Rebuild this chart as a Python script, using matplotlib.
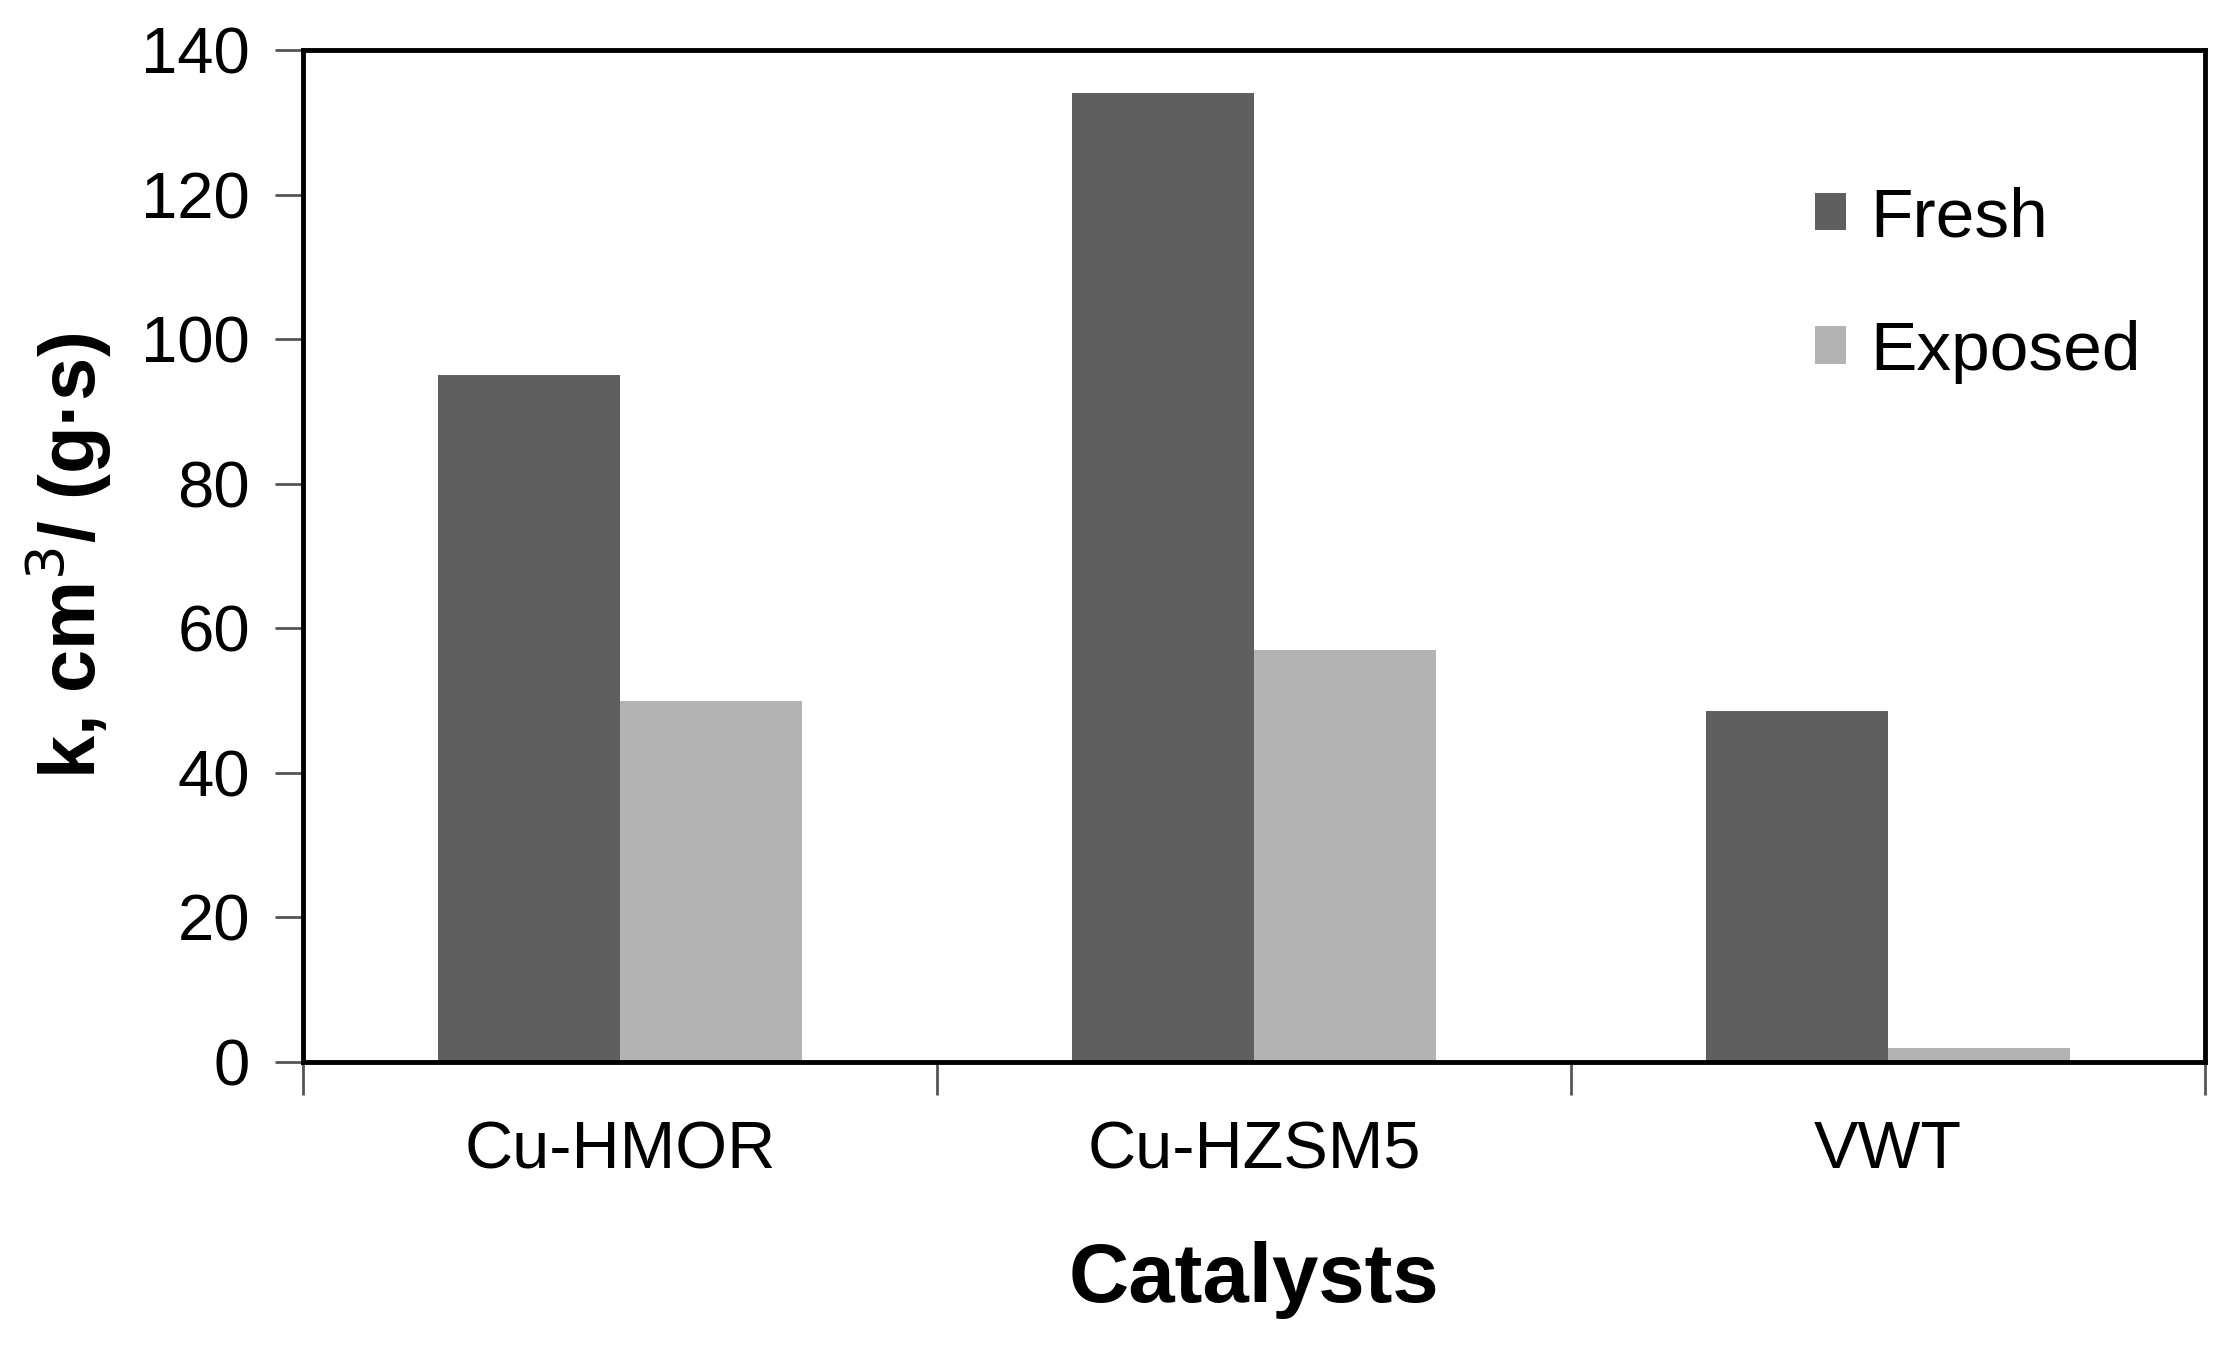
import numpy as np
import matplotlib
matplotlib.use("Agg")
import matplotlib.pyplot as plt

catalysts = ["Cu-HMOR", "Cu-HZSM5", "VWT"]
fresh = [95, 134, 48.5]
exposed = [50, 57, 2]

plt.rcParams['font.family'] = ['Liberation Sans', 'DejaVu Sans']

fig = plt.figure(figsize=(22.34, 13.52), dpi=100)
ax = fig.add_axes([0.1356, 0.2145, 0.987 - 0.1356, 0.963 - 0.2145])

x = np.arange(len(catalysts))
w = 0.287
ax.bar(x - w / 2, fresh, w, color='#5f5f5f', label='Fresh')
ax.bar(x + w / 2, exposed, w, color='#b3b3b3', label='Exposed')

ax.set_xlim(-0.5, len(catalysts) - 0.5)
ax.set_ylim(0, 140)
ax.set_yticks(np.arange(0, 141, 20))
ax.set_xticks(x)
ax.set_xticklabels(catalysts)
ax.set_xticks(np.arange(-0.5, len(catalysts), 1), minor=True)
ax.tick_params(axis='x', which='major', length=0, pad=42, labelsize=48)
ax.tick_params(axis='x', which='minor', length=24, width=2, color='#555555', direction='out')
ax.tick_params(axis='y', length=20, width=2, color='#555555', direction='out', pad=18, labelsize=47)

for s in ax.spines.values():
    s.set_linewidth(3.5)
    s.set_color('black')

ax.set_xlabel('Catalysts', fontsize=60, fontweight='bold', labelpad=42)
ax.set_ylabel('k, cm$^3$/ (g·s)', fontsize=56, fontweight='bold', labelpad=20)

ax.legend(loc='upper left', bbox_to_anchor=(0.762, 0.927), frameon=False, fontsize=50,
          handlelength=0.45, handleheight=0.45, handletextpad=0.35, labelspacing=1.0)

fig.savefig('out.png', dpi=100)
